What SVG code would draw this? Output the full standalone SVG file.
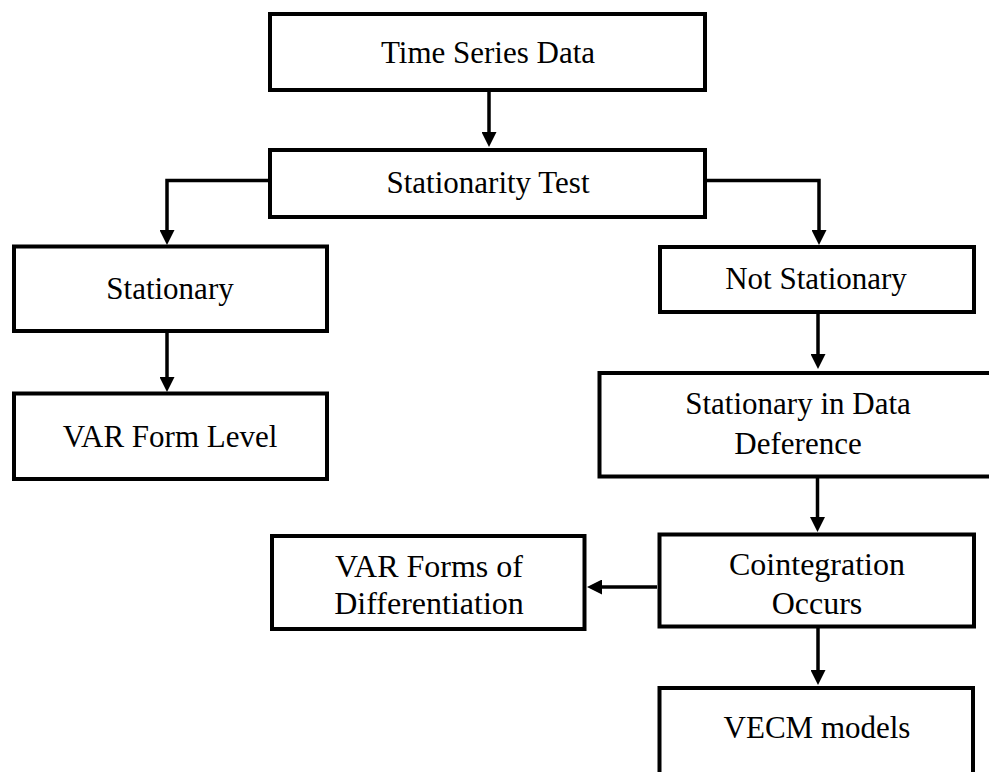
<svg xmlns="http://www.w3.org/2000/svg" width="989" height="772" viewBox="0 0 989 772">
<style>
.box{fill:#fff;stroke:#000;stroke-width:4}
.t{font-family:"Liberation Serif","Times New Roman",serif;font-size:31px;fill:#000;text-anchor:middle}
.t2{font-family:"Liberation Serif","Times New Roman",serif;font-size:32px;fill:#000;text-anchor:middle}
.c{fill:none;stroke:#000;stroke-width:3.5;marker-end:url(#ah)}
</style>
<defs>
<marker id="ah" markerUnits="userSpaceOnUse" markerWidth="15" markerHeight="15" refX="7" refY="7.5" orient="auto">
<path d="M0,0 L15,7.5 L0,15 Z" fill="#000"/>
</marker>
</defs>
<rect width="989" height="772" fill="#fff"/>
<g id="connectors">
<path class="c" d="M489,92 V139"/>
<path class="c" d="M268,180.5 H167 V237"/>
<path class="c" d="M706,180.5 H819 V237"/>
<path class="c" d="M167,333 V384"/>
<path class="c" d="M818,314 V361"/>
<path class="c" d="M817.5,478 V524"/>
<path class="c" d="M657,587 H595"/>
<path class="c" d="M818,628 V677"/>
</g>
<g id="time-series-data">
<rect class="box" x="270" y="14" width="435" height="76"/>
<text class="t" x="488" y="63">Time Series Data</text>
</g>
<g id="stationarity-test">
<rect class="box" x="270" y="150" width="435" height="67"/>
<text class="t" x="488" y="193">Stationarity Test</text>
</g>
<g id="stationary">
<rect class="box" x="14" y="246.5" width="313" height="84.5"/>
<text class="t" x="170" y="299">Stationary</text>
</g>
<g id="var-form-level">
<rect class="box" x="14" y="393.5" width="313" height="85.5"/>
<text class="t" x="170" y="447">VAR Form Level</text>
</g>
<g id="not-stationary">
<rect class="box" x="660" y="247" width="314" height="65"/>
<text class="t" x="816" y="289">Not Stationary</text>
</g>
<g id="stationary-in-data-deference">
<rect class="box" x="599.5" y="373" width="400" height="103.5"/>
<text class="t" x="798" y="414">Stationary in Data</text>
<text class="t" x="798" y="454">Deference</text>
</g>
<g id="cointegration-occurs">
<rect class="box" x="659.5" y="534.5" width="314.5" height="92"/>
<text class="t2" x="817" y="575">Cointegration</text>
<text class="t2" x="817" y="614">Occurs</text>
</g>
<g id="var-forms-of-differentiation">
<rect class="box" x="272" y="536" width="312.5" height="93"/>
<text class="t2" x="429" y="577">VAR Forms of</text>
<text class="t2" x="429" y="614">Differentiation</text>
</g>
<g id="vecm-models">
<rect class="box" x="659.5" y="688" width="313.5" height="100"/>
<text class="t" x="817" y="738">VECM models</text>
</g>
</svg>
